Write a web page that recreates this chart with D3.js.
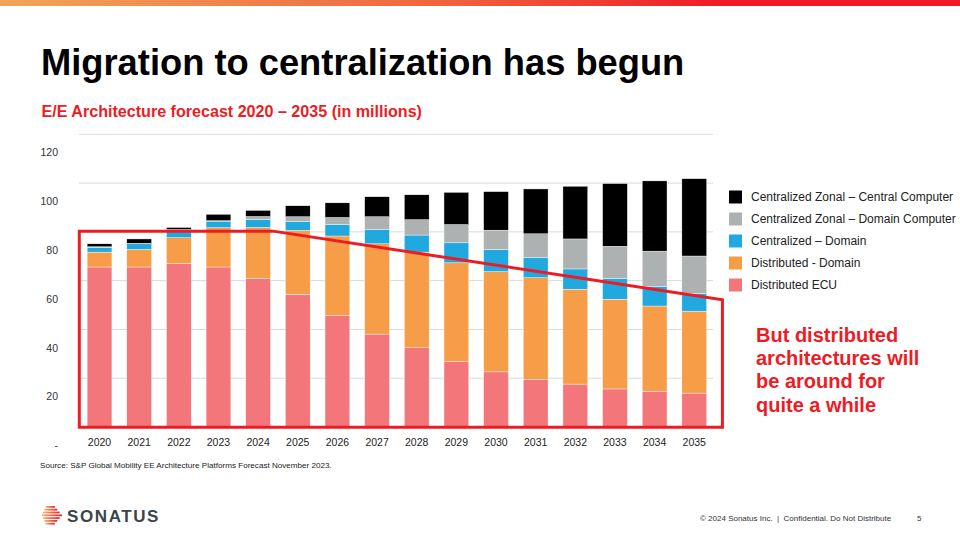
<!DOCTYPE html>
<html><head><meta charset="utf-8">
<script src="https://cdn.jsdelivr.net/npm/d3@7"></script>
<style>
body{margin:0;background:#fff}
svg{display:block}
text{font-family:"Liberation Sans",Arial,Helvetica,sans-serif}
</style>
</head><body>
<svg id="c" width="960" height="535"></svg>
<script>
// ---------- data ----------
const years = ["2020","2021","2022","2023","2024","2025","2026","2027","2028","2029","2030","2031","2032","2033","2034","2035"];
const distributedECU    = [65.6,65.6,67.0,65.6,60.9,54.4,45.7,38.1,32.5,26.9,22.6,19.6,17.6,15.6,14.7,13.9];
const distributedDomain = [6.1,7.2,10.6,16.1,20.9,26.2,32.6,37.0,39.2,40.4,41.1,41.6,38.9,36.8,34.9,33.6];
const centralizedDomain = [1.9,2.3,3.3,2.7,3.3,3.7,4.7,5.9,7.0,8.2,9.1,8.4,8.3,8.5,8.1,7.2];
const zonalDomain       = [0.3,0.2,0.1,0.2,1.2,1.9,2.9,5.2,6.3,7.5,7.9,9.6,12.3,13.2,14.4,15.4];
const zonalCentral      = [1.2,1.8,0.8,2.6,2.5,4.5,6.0,8.2,10.2,13.2,15.8,18.4,21.6,25.7,28.8,31.7];
const seriesNames = ["Distributed ECU","Distributed - Domain","Centralized – Domain","Centralized Zonal – Domain Computer","Centralized Zonal – Central Computer"];
const seriesColors = ["#f3767b","#f79c47","#20a8df","#aeb1b1","#000000"];
const yTickValues = [0,20,40,60,80,100,120];
const yTickLabels = ["-","20","40","60","80","100","120"];
// annotation outline (in year / value space)
const annoYears  = [2019.49,2024.38,2035.71,2035.71,2019.49];
const annoValues = [80.3,80.3,52.2,-0.1,-0.1];
const annoLines = ["But distributed","architectures will","be around for","quite a while"];

const seriesArrays = [distributedECU,distributedDomain,centralizedDomain,zonalDomain,zonalCentral];
const rows = years.map((y,i)=>{const r={year:y}; seriesNames.forEach((s,k)=>r[s]=seriesArrays[k][i]); return r;});

const svg = d3.select("#c");

// top gradient bar
const defs = svg.append("defs");
const g1 = defs.append("linearGradient").attr("id","topbar").attr("x1","0").attr("x2","1");
g1.append("stop").attr("offset","0").attr("stop-color","#efa55a");
g1.append("stop").attr("offset","0.45").attr("stop-color","#f06640");
g1.append("stop").attr("offset","0.75").attr("stop-color","#ee1c25");
g1.append("stop").attr("offset","1").attr("stop-color","#ee1c25");
svg.append("rect").attr("x",0).attr("y",0).attr("width",960).attr("height",6).attr("fill","url(#topbar)");

// titles
svg.append("text").attr("x",41).attr("y",75).attr("font-size",36.3).attr("font-weight","bold").attr("fill","#000")
  .text("Migration to centralization has begun");
svg.append("text").attr("x",41.5).attr("y",116.5).attr("font-size",16.1).attr("font-weight","bold").attr("fill","#ed1c24")
  .text("E/E Architecture forecast 2020 – 2035 (in millions)");

// scales
const x = d3.scaleBand().domain(years).range([79.7,714.1]).paddingInner(0.375).paddingOuter(0.1875);
const y = d3.scaleLinear().domain([0,120]).range([427,134.3]);
const xc = d3.scaleLinear().domain([2020,2035]).range([x("2020")+x.bandwidth()/2, x("2035")+x.bandwidth()/2]);

// gridlines
svg.append("g").selectAll("line").data(yTickValues.filter(v=>v>0)).join("line")
  .attr("x1",79).attr("x2",713).attr("y1",d=>y(d)).attr("y2",d=>y(d))
  .attr("stroke","#d9d9d9").attr("stroke-width",1);

// y tick labels (as in the source, offset below their gridlines)
svg.append("g").selectAll("text").data(yTickValues).join("text")
  .attr("x",58).attr("y",d=>y(d)+18.4).attr("dy","0.35em").attr("text-anchor","end")
  .attr("font-size",10.5).attr("fill","#333").text((d,i)=>yTickLabels[i]);

// bars
const stack = d3.stack().keys(seriesNames)(rows);
svg.append("g").selectAll("g").data(stack).join("g").attr("fill",(d,i)=>seriesColors[i])
  .selectAll("rect").data(d=>d).join("rect")
  .attr("x",d=>x(d.data.year)).attr("width",x.bandwidth())
  .attr("y",d=>y(d[1])).attr("height",d=>Math.max(0,y(d[0])-y(d[1])))
  .attr("stroke","#ffffff").attr("stroke-width",0.4);

// x labels
svg.append("g").selectAll("text").data(years).join("text")
  .attr("x",d=>x(d)+x.bandwidth()/2).attr("y",445.5).attr("text-anchor","middle")
  .attr("font-size",10.5).attr("fill","#222").text(d=>d);

// annotation outline
const pts = annoYears.map((yr,i)=>[xc(yr),y(annoValues[i])]);
svg.append("path").attr("d",d3.line()(pts)+"Z").attr("fill","none").attr("stroke","#ed1c24")
  .attr("stroke-width",3).attr("stroke-linejoin","miter");

// legend
const legendOrder = [4,3,2,1,0];
const lg = svg.append("g").selectAll("g").data(legendOrder).join("g")
  .attr("transform",(d,i)=>`translate(729,${197+i*22})`);
lg.append("rect").attr("x",0).attr("y",-6.5).attr("width",13).attr("height",13).attr("fill",d=>seriesColors[d]);
lg.append("text").attr("x",22).attr("y",0).attr("dy","0.35em").attr("font-size",12).attr("fill","#222").text(d=>seriesNames[d]);

// annotation text
svg.append("g").selectAll("text").data(annoLines).join("text")
  .attr("x",756).attr("y",(d,i)=>341.7+i*23.3).attr("font-size",20).attr("font-weight","bold")
  .attr("fill","#ed1c24").text(d=>d);

// source
svg.append("text").attr("x",40).attr("y",467.8).attr("font-size",8.1).attr("fill","#222")
  .text("Source: S&P Global Mobility EE Architecture Platforms Forecast November 2023.");

// logo
const g2 = defs.append("linearGradient").attr("id","logo").attr("x1","0").attr("x2","1");
g2.append("stop").attr("offset","0").attr("stop-color","#f7b27a");
g2.append("stop").attr("offset","0.5").attr("stop-color","#f26a4a");
g2.append("stop").attr("offset","1").attr("stop-color","#e8202a");
const stripes = [0,1,2,3,4,5,6];
svg.append("g").selectAll("rect").data(stripes).join("rect")
  .attr("x",d=>42+Math.abs(d-3)*1.2).attr("y",d=>506+d*2.8)
  .attr("width",d=>20-Math.abs(d-3)*3.6).attr("height",1.8).attr("fill","url(#logo)");
svg.append("text").attr("x",67).attr("y",522).attr("font-size",17).attr("font-weight","bold")
  .attr("letter-spacing",1.6).attr("fill","#3b444c").text("SONATUS");

// footer
svg.append("text").attr("x",700).attr("y",520.5).attr("font-size",8).attr("fill","#333")
  .style("white-space","pre").text("© 2024 Sonatus Inc.  |  Confidential. Do Not Distribute");
svg.append("text").attr("x",917).attr("y",520.5).attr("font-size",8).attr("fill","#333").text("5");
</script>
</body></html>
